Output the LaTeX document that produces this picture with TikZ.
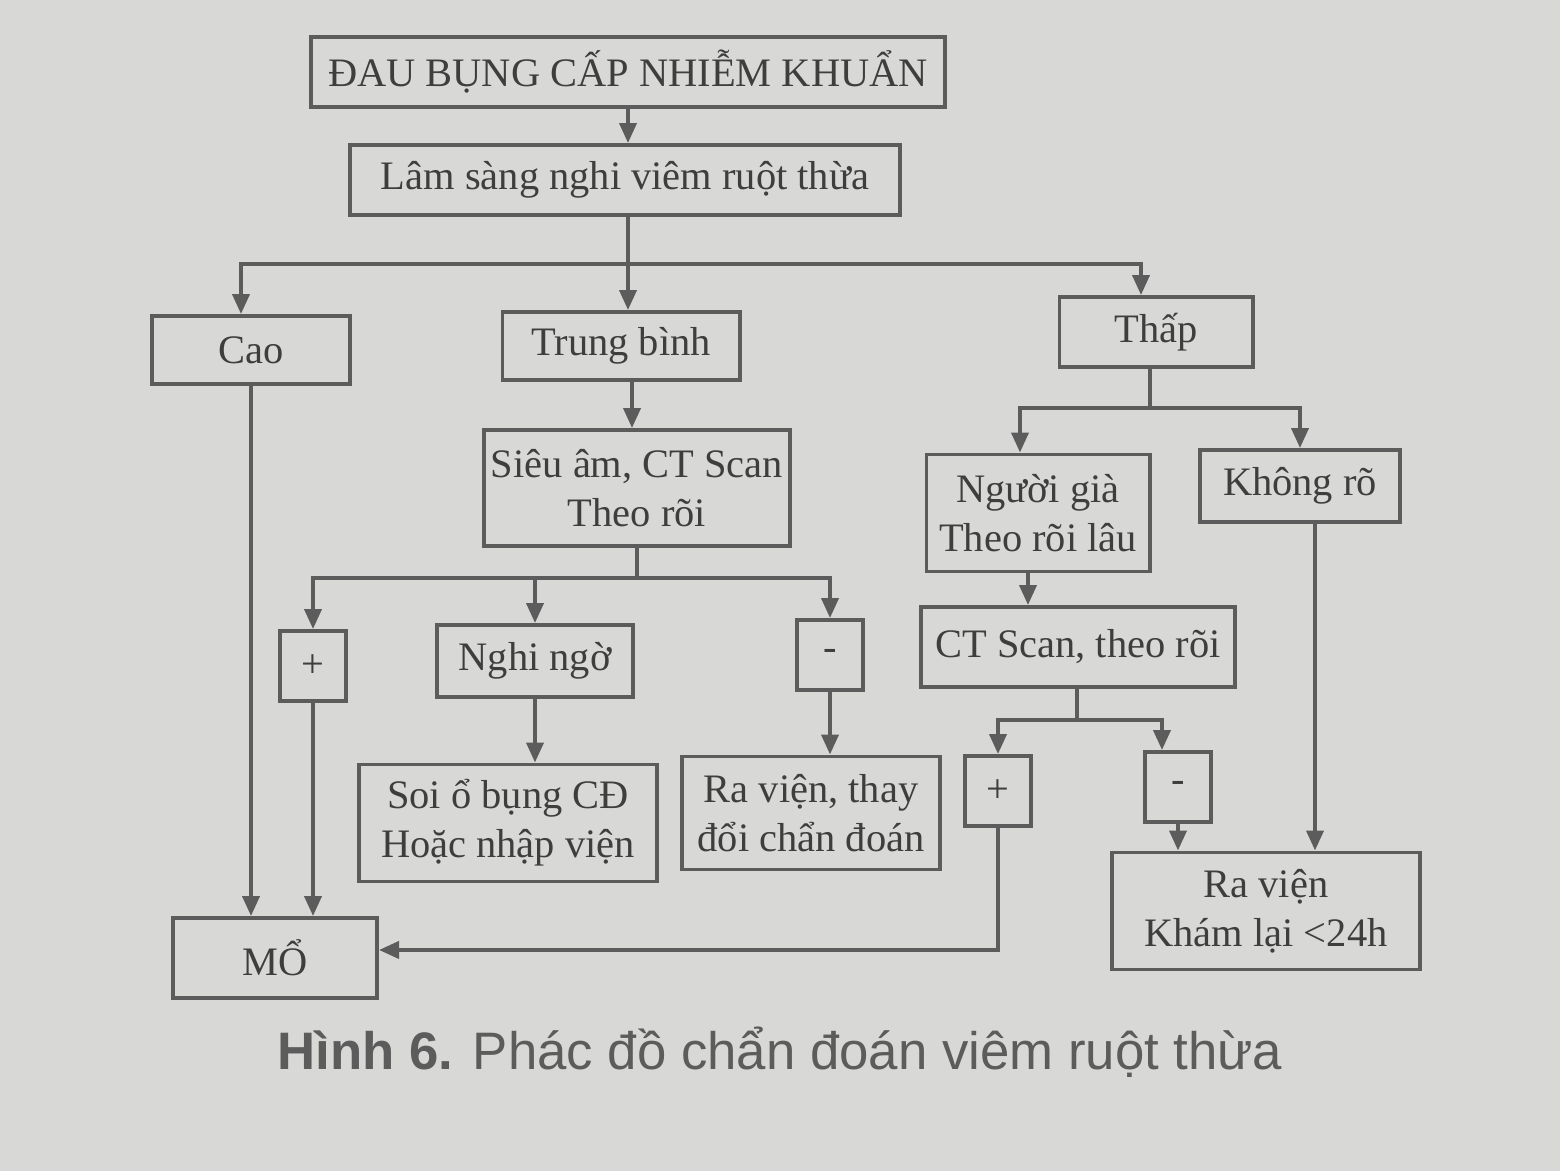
\documentclass[tikz,border=0pt]{standalone}
\usepackage{fontspec}
\setmainfont{Liberation Serif}
\newfontfamily\capfont{Liberation Sans}
\usetikzlibrary{arrows.meta, positioning}
\definecolor{paper}{RGB}{216,216,214}
\definecolor{ink}{RGB}{92,92,92}
\definecolor{inktext}{RGB}{62,62,62}

\begin{document}
\begin{tikzpicture}[x=0.01cm, y=-0.01cm, >={Triangle[length=0.2cm, width=0.17cm]}]
    \tikzstyle{box} = [draw=ink, line width=1.1pt, rectangle, inner sep=2pt, align=center, text=inktext, font=\fontsize{11.5}{14}\selectfont]
    \tikzstyle{sign} = [box, minimum width=0.66cm, minimum height=0.7cm]
    \tikzstyle{line} = [draw=ink, line width=1.1pt]

    \fill[paper] (0,0) rectangle (1560,1171);
    \useasboundingbox (0,0) rectangle (1560,1171);

    % Top rows
    \node[box, minimum width=6.33cm, minimum height=0.7cm] (dau) at (628,72) {ĐAU BỤNG CẤP NHIỄM KHUẨN};
    \node[box, minimum width=5.5cm, minimum height=0.7cm] (lamsang) at (625,180) {Lâm sàng nghi viêm ruột thừa};

    % Levels
    \node[box, minimum width=1.98cm, minimum height=0.68cm] (cao) at (251,350) {Cao};
    \node[box, minimum width=2.37cm, minimum height=0.68cm] (trungbinh) at (621,346) {Trung bình};
    \node[box, minimum width=1.93cm, minimum height=0.7cm] (thap) at (1156,332) {Thấp};

    % Middle branch
    \node[box, minimum width=3.05cm, minimum height=1.16cm] (sieuam) at (637,488) {Siêu âm, CT Scan\\Theo rõi};
    \node[sign] (plusA) at (313,666) {+};
    \node[box, minimum width=1.96cm, minimum height=0.72cm] (nghingo) at (535,661) {Nghi ngờ};
    \node[sign] (minusA) at (830,655) {-};
    \node[box, minimum width=2.97cm, minimum height=1.17cm] (soi) at (508,823) {Soi ổ bụng CĐ\\Hoặc nhập viện};
    \node[box, minimum width=2.58cm, minimum height=1.13cm] (ravienA) at (811,813) {Ra viện, thay\\đổi chẩn đoán};
    \node[box, minimum width=2.04cm, minimum height=0.8cm] (mo) at (275,958) {MỔ};

    % Right branch
    \node[box, minimum width=2.23cm, minimum height=1.17cm] (nguoigia) at (1038,513) {Người già\\Theo rõi lâu};
    \node[box, minimum width=2.0cm, minimum height=0.72cm] (khongro) at (1300,486) {Không rõ};
    \node[box, minimum width=3.13cm, minimum height=0.8cm] (ctscan) at (1078,647) {CT Scan, theo rõi};
    \node[sign] (plusB) at (998,791) {+};
    \node[sign] (minusB) at (1178,787) {-};
    \node[box, minimum width=3.08cm, minimum height=1.17cm] (ravienB) at (1266,911) {Ra viện\\Khám lại <24h};

    % Caption
    \node[text=ink, font=\capfont\fontsize{15}{18}\selectfont] (caption) at (780,1052) {\textbf{Hình 6.} Phác đồ chẩn đoán viêm ruột thừa};

    % Junctions
    \coordinate (jtop) at (628,264);
    \coordinate (jmid) at (637,578);
    \coordinate (jthap) at (1150,408);
    \coordinate (jct) at (1077,720);

    % Edges
    \begin{scope}[every path/.style = {line}]
        \draw[->] (dau) -- (dau.south |- lamsang.north);
        \draw (lamsang.south -| jtop) -- (jtop);
        \draw[->] (jtop) -| ([xshift=-0.1cm]cao.north);
        \draw[->] (jtop) -- (jtop |- trungbinh.north);
        \draw[->] (jtop) -| ([xshift=-0.15cm]thap.north);
        \draw[->] (cao.south) -- (cao.south |- mo.north);

        \draw[->] (trungbinh.south -| 632,0) -- (632,0 |- sieuam.north);
        \draw (sieuam.south -| jmid) -- (jmid);
        \draw[->] (jmid) -| (plusA.north);
        \draw[->] (jmid) -| (nghingo.north);
        \draw[->] (jmid) -| (minusA.north);
        \draw[->] (plusA.south) -- (plusA.south |- mo.north);
        \draw[->] (nghingo.south) -- (nghingo.south |- soi.north);
        \draw[->] (minusA.south) -- (minusA.south |- ravienA.north);

        \draw (thap.south -| jthap) -- (jthap);
        \draw[->] (jthap) -| ([xshift=-0.18cm]nguoigia.north);
        \draw[->] (jthap) -| (khongro.north);
        \draw[->] ([xshift=-0.1cm]nguoigia.south) -- ([xshift=-0.1cm]nguoigia.south |- ctscan.north);
        \draw (ctscan.south -| jct) -- (jct);
        \draw[->] (jct) -| (plusB.north);
        \draw[->] (jct) -| ([xshift=-0.16cm]minusB.north);
        \draw[->] (plusB.south) |- ([yshift=0.08cm]mo.east);
        \draw[->] (minusB.south) -- (minusB.south |- ravienB.north);
        \draw[->] ([xshift=0.15cm]khongro.south) -- ([xshift=0.15cm]khongro.south |- ravienB.north);
    \end{scope}
\end{tikzpicture}
\end{document}
